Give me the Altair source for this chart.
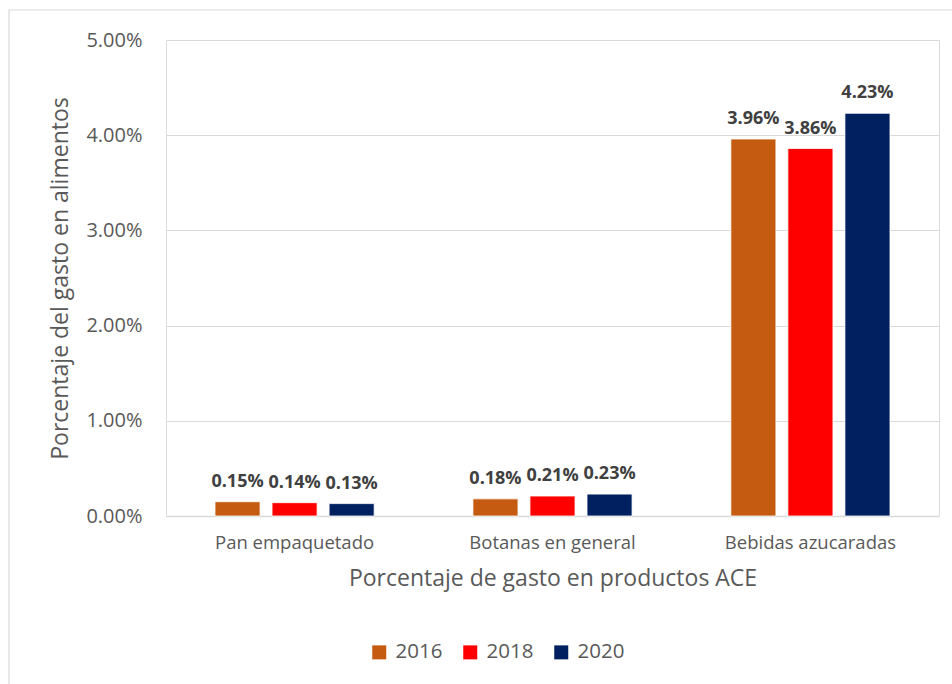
import altair as alt
import pandas as pd

categories = ["Pan empaquetado", "Botanas en general", "Bebidas azucaradas"]
years = ["2016", "2018", "2020"]
values_2016 = [0.0015, 0.0018, 0.0396]
values_2018 = [0.0014, 0.0021, 0.0386]
values_2020 = [0.0013, 0.0023, 0.0423]
colors = ["#C55A11", "#FF0000", "#002060"]

rows = []
for series, yr in zip([values_2016, values_2018, values_2020], years):
    for cat, v in zip(categories, series):
        rows.append({"cat": cat, "year": yr, "value": v})
df = pd.DataFrame(rows)

FONT = "Open Sans"

x_enc = alt.X("cat:N", sort=categories,
              scale=alt.Scale(paddingInner=0.383, paddingOuter=0.19),
              axis=alt.Axis(title="Porcentaje de gasto en productos ACE", labelAngle=0,
                            labelFontSize=18.5, labelColor="#595959", labelPadding=17,
                            titleFontSize=23, titleColor="#595959", titleFontWeight="normal",
                            titlePadding=16, ticks=False, domainColor="#D9D9D9", domainWidth=1.5,
                            labelFont=FONT, titleFont=FONT))
xo_enc = alt.XOffset("year:N", sort=years, scale=alt.Scale(paddingInner=0.21, paddingOuter=0))
y_enc = alt.Y("value:Q", scale=alt.Scale(domain=[0, 0.05], nice=False),
              axis=alt.Axis(title="Porcentaje del gasto en alimentos", format=".2%",
                            values=[0, 0.01, 0.02, 0.03, 0.04, 0.05],
                            labelFontSize=20, labelColor="#595959", labelPadding=24,
                            titleFontSize=23, titleColor="#595959", titleFontWeight="normal",
                            titleX=-94, titleY=238, titleAngle=270, titleBaseline="bottom",
                            titleAnchor="middle",
                            ticks=False, domain=False,
                            gridColor="#D9D9D9", gridWidth=1.2,
                            labelFont=FONT, titleFont=FONT))

base = alt.Chart(df)

bars = base.mark_bar(stroke="white", strokeWidth=0.8).encode(
    x=x_enc, xOffset=xo_enc, y=y_enc,
    color=alt.Color("year:N", sort=years,
                    scale=alt.Scale(domain=years, range=colors),
                    legend=alt.Legend(title=None, orient="none", direction="horizontal",
                                      legendX=203, legendY=602,
                                      symbolType="square", symbolSize=196,
                                      symbolStrokeWidth=0,
                                      labelFontSize=20.5, labelColor="#595959", labelFont=FONT,
                                      labelOffset=6, columnPadding=17)),
)

labels = base.mark_text(fontSize=18, fontWeight="bold", color="#404040", font=FONT,
                        baseline="alphabetic", dy=-15).encode(
    x=alt.X("cat:N", sort=categories), xOffset=alt.XOffset("year:N", sort=years),
    y="value:Q", text=alt.Text("value:Q", format=".2%"),
)

frame = alt.Chart(pd.DataFrame({"k": [0]})).mark_rect(
    fill=None, stroke="#D9D9D9", strokeWidth=1.2).encode(
    x=alt.value(-157), x2=alt.value(820), y=alt.value(-30), y2=alt.value(700))

chart = alt.layer(frame, bars, labels).properties(
    width=773, height=476,
    padding={"left": 166, "top": 40, "right": 13, "bottom": 168},
    autosize=alt.AutoSizeParams(type="none"),
).configure_view(stroke=None).configure(background="white")

chart.save("out.html", embed_options={"renderer": "svg", "actions": False})
